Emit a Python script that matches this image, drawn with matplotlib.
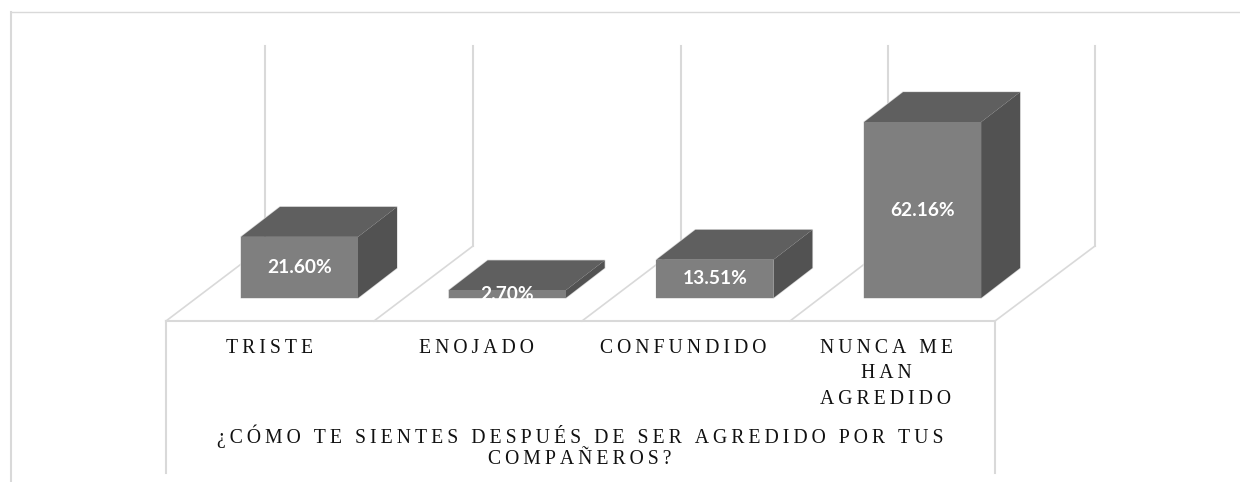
import matplotlib
matplotlib.use('Agg')
import matplotlib.pyplot as plt
from matplotlib.patches import Polygon

# Values
categories = ['TRISTE', 'ENOJADO', 'CONFUNDIDO', 'NUNCA ME\nHAN\nAGREDIDO']
values = [21.60, 2.70, 13.51, 62.16]
value_labels = ['21.60%', '2.70%', '13.51%', '62.16%']
axis_title = '¿CÓMO TE SIENTES DESPUÉS DE SER AGREDIDO POR TUS\nCOMPAÑEROS?'

W, H = 1240, 482
THIN = '\u2009'


def spaced(s):
    return '\n'.join(THIN.join(line) for line in s.split('\n'))


fig = plt.figure(figsize=(W / 100, H / 100), dpi=100)

# Furniture axes in pixels
bg = fig.add_axes([0, 0, 1, 1])
bg.set_xlim(0, W)
bg.set_ylim(H, 0)
bg.axis('off')

grid = '#d9d9d9'
bg.plot([11, 11], [12, H], color=grid, lw=1.5)
bg.plot([11, W], [12, 12], color=grid, lw=1.0)
bg.plot([166, 995], [321, 321], color=grid, lw=1.5)
bg.plot([166, 166], [321, 473], color=grid, lw=1.5)
bg.plot([995, 995], [321, 473], color=grid, lw=1.5)
for fx, bx in zip([166, 374, 582, 790, 995], [265, 473, 681, 888, 1095]):
    bg.plot([fx, bx], [321, 246], color=grid, lw=1.2)
    bg.plot([bx, bx], [246, 46], color=grid, lw=1.5)

# Bars axes: x in category index, y in percent
ax = fig.add_axes([0, 0, 1, 1])
ax.patch.set_alpha(0)
ax.axis('off')
x_step, y_step = 207.7, 2.83
ax.set_xlim(-299.5 / x_step, (W - 299.5) / x_step)
ax.set_ylim((298 - H) / y_step, 298 / y_step)

half = 58.5 / x_step
dx, dy = 39 / x_step, 30 / y_step
for i, v in enumerate(values):
    l, r = i - half, i + half
    # faint rim round the whole box
    ax.add_patch(Polygon([(l, 0), (r, 0), (r + dx, dy), (r + dx, v + dy), (l + dx, v + dy), (l, v)],
                         fc='none', ec=grid, lw=1.0))
    ax.add_patch(Polygon([(l, v), (r, v), (r + dx, v + dy), (l + dx, v + dy)],
                         fc='#5f5f5f', ec='none'))
    ax.add_patch(Polygon([(r, 0), (r + dx, dy), (r + dx, v + dy), (r, v)],
                         fc='#525252', ec='none'))
    ax.bar(i, v, width=2 * half, color='#7f7f7f')
    ax.text(i, v / 2, value_labels[i], color='white', family='Lato', weight='bold',
            fontsize=13.8, ha='center', va='center')

# Category labels and axis title
label_x = [270, 476, 683, 886]
for x, c in zip(label_x, categories):
    bg.text(x, 339, spaced(c), family='Liberation Serif', fontsize=14.2, color='#111111',
            ha='center', va='top', linespacing=1.46, zorder=5)
bg.text(580, 424, spaced(axis_title), family='Liberation Serif', fontsize=14.25, color='#111111',
        ha='center', va='top', linespacing=1.21, zorder=5)

fig.savefig('out.png', dpi=100)
